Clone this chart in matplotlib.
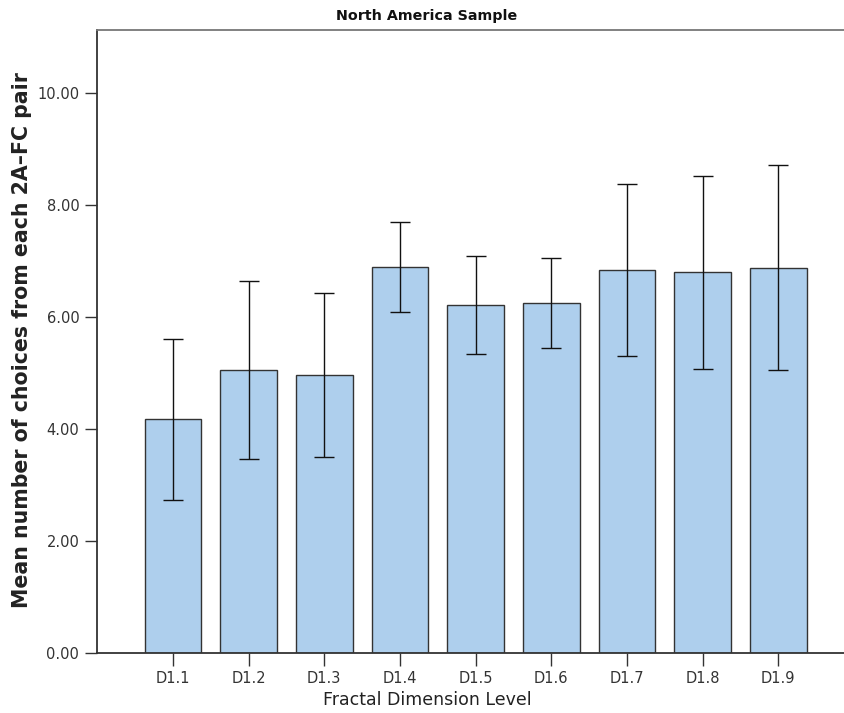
import matplotlib.pyplot as plt
import numpy as np

# mean choices per fractal dimension level, with 95% CI bounds
levels = ["D1.1", "D1.2", "D1.3", "D1.4", "D1.5", "D1.6", "D1.7", "D1.8", "D1.9"]
means = [4.17, 5.05, 4.96, 6.89, 6.21, 6.25, 6.84, 6.80, 6.88]
ci_low = [2.73, 3.46, 3.49, 6.08, 5.33, 5.45, 5.30, 5.07, 5.05]
ci_high = [5.61, 6.64, 6.43, 7.69, 7.09, 7.06, 8.38, 8.52, 8.71]
yticks = [0, 2, 4, 6, 8, 10]

plt.rcParams['font.family'] = ['DejaVu Sans']

fig = plt.figure(figsize=(8.44, 7.13), dpi=100)
ax = fig.add_axes([0.1153, 0.0842, 0.8847, 0.874])

x = np.arange(len(levels))
m = np.array(means)
err = np.vstack([m - np.array(ci_low), np.array(ci_high) - m])

ax.bar(x, m, width=0.75, color='#aecfed', edgecolor='#333333', linewidth=1.0, zorder=2)
ax.errorbar(x, m, yerr=err, fmt='none', ecolor='#111111', elinewidth=1.0,
            capsize=7, capthick=1.0, zorder=3)

ax.set_xlim(-1, 8.87)
ax.set_ylim(0, 11.125)
ax.set_xticks(x)
ax.set_xticklabels(levels)
ax.set_yticks(yticks)
ax.set_yticklabels([f"{v:.2f}" for v in yticks])
ax.tick_params(axis='both', direction='out', length=9, width=1.0, color='#333333',
               labelsize=10.5, labelcolor='#333333', pad=4)

ax.spines['right'].set_visible(False)
for side in ['left', 'bottom']:
    ax.spines[side].set_color('#333333')
    ax.spines[side].set_linewidth(1.3)
ax.spines['top'].set_color('#777777')
ax.spines['top'].set_linewidth(1.3)

fig.text(0.506, 0.018, "Fractal Dimension Level", fontsize=12.5, color='#222222',
         ha='center', va='center')
fig.text(0.026, 0.523, "Mean number of choices from each 2A\u2013FC pair", rotation=90,
         fontsize=14.8, fontweight='bold', color='#222222', ha='center', va='center')
fig.text(0.506, 0.977, "North America Sample", fontsize=10.3, fontweight='bold',
         color='#111111', ha='center', va='center')

fig.savefig("out.png", dpi=100)
